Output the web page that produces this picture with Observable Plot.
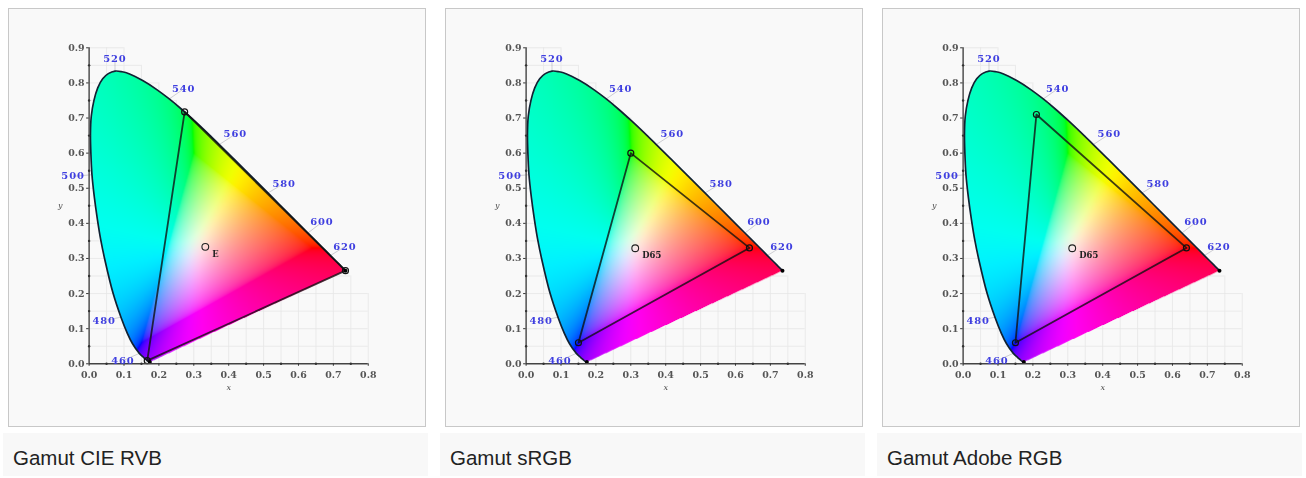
<!DOCTYPE html>
<html><head><meta charset="utf-8">
<script src="https://cdn.jsdelivr.net/npm/d3@7"></script>
<script src="https://cdn.jsdelivr.net/npm/@observablehq/plot@0.6"></script>
<style>
html,body{margin:0;padding:0;background:#fff;width:1306px;height:478px;overflow:hidden}
.panel{position:absolute;top:8px;width:418px;height:419px;box-sizing:border-box;background:#f9f9f9;border:1px solid #c8c8c8}
.panel svg{position:absolute;left:-1px;top:-1px;background:transparent;filter:blur(.5px)}
.cap{position:absolute;top:433px;height:43px;width:425px;background:#f8f8f8;font:20.5px "Liberation Sans",Arial,sans-serif;color:#222;line-height:49px;padding-left:10px;box-sizing:border-box}
.wl text{letter-spacing:.9px}
svg g[aria-label^="axis"] text{letter-spacing:.4px}
</style></head><body>
<script>
const captions = ["Gamut CIE RVB", "Gamut sRGB", "Gamut Adobe RGB"];
const panelLeft = [8, 445, 882];
const captionLeft = [3, 440, 877];
const whiteNames = ["E", "D65", "D65"];
const whitePoints = [[0.333, 0.333], [0.3127, 0.329], [0.3127, 0.329]];
const triangles = [
  [[0.7347, 0.2653], [0.2738, 0.7174], [0.1666, 0.0089]],
  [[0.64, 0.33], [0.30, 0.60], [0.15, 0.06]],
  [[0.64, 0.33], [0.21, 0.71], [0.15, 0.06]]
];
const wavelengths = [380,430,440,450,460,470,475,480,485,490,492.5,495,497.5,500,502.5,505,507.5,510,512.5,515,517.5,520,522.5,525,530,535,540,545,550,555,560,565,570,575,580,585,590,595,600,605,610,620,630,640,650,700];
const locusX = [.1741,.1689,.1644,.1566,.144,.1241,.1096,.0913,.0687,.0454,.0335,.0235,.0148,.0082,.0052,.0039,.0062,.0139,.0247,.0389,.055,.0743,.0943,.1142,.1547,.1929,.2296,.2658,.3016,.3373,.3731,.4087,.4441,.4788,.5125,.5448,.5752,.6029,.627,.6482,.6658,.6915,.7079,.719,.726,.7347];
const locusY = [.005,.0069,.0109,.0177,.0297,.0578,.0868,.1327,.2007,.295,.352,.4127,.476,.5384,.5965,.6548,.705,.7502,.786,.812,.8265,.8338,.8318,.8262,.8059,.7816,.7543,.7243,.6923,.6589,.6245,.5896,.5547,.5202,.4866,.4544,.4242,.3965,.3725,.3514,.334,.3083,.292,.2809,.274,.2653];
const labelNames = ["460","480","500","520","540","560","580","600","620"];
const labelX = [.097,.043,-.046,.074,.271,.419,.559,.667,.733];
const labelY = [.009,.123,.534,.868,.783,.654,.514,.403,.334];
const axisTicksX = [0,.1,.2,.3,.4,.5,.6,.7,.8];
const axisTicksY = [0,.1,.2,.3,.4,.5,.6,.7,.8,.9];
const minorTicksX = [.05,.15,.25,.35,.45,.55,.65,.75];
const minorTicksY = [.05,.15,.25,.35,.45,.55,.65,.75,.85];
const gridX = d3.range(1,17).map(i=>i*.05);
const gridY = d3.range(1,19).map(i=>i*.05);

const locus = locusX.map((x,i)=>({x, y:locusY[i], w:wavelengths[i]}));
const polygon = locus.map(d=>[d.x,d.y]);
const gamma = v => v<=.0031308 ? 12.92*v : 1.055*Math.pow(v,1/2.4)-.055;
function chroma(x,y){
  if(y<=0) return "#000";
  const X=x/y, Z=Math.max(0,1-x-y)/y;
  let r=3.2406*X-1.5372-.4986*Z, g=-.9689*X+1.8758+.0415*Z, b=.0557*X-.204+1.057*Z;
  const m=Math.min(r,g,b,0); r-=m; g-=m; b-=m;
  r*=1.15;
  const M=Math.pow(r*r*r*r+g*g*g*g+b*b*b*b,.25)||1;
  const c=v=>Math.round(255*Math.min(1,gamma(Math.min(1,1.12*v/M))));
  return `rgb(${c(r)},${c(g)},${c(b)})`;
}
const inside=(x,y)=>d3.polygonContains(polygon,[x,y])?1:0;
const serif='"DejaVu Serif",serif';
captions.forEach((cap,k)=>{
  const tri=triangles[k];
  const triPts=[...tri,tri[0]].map(([x,y])=>({x,y}));
  const wp=whitePoints[k];
  const labels=labelNames.map((n,i)=>({n,x:labelX[i],y:labelY[i]}));
  const leaders=labels.map(d=>{const q=locus.find(l=>l.w==+d.n);return {x1:q.x,y1:q.y,x2:d.x,y2:d.y}});
  const plot=Plot.plot({
    width:418,height:419,marginLeft:81,marginRight:56.5,marginTop:39.5,marginBottom:62,
    style:{background:"transparent",overflow:"visible"},
    x:{domain:[0,.8],label:null,axis:null},
    y:{domain:[0,.9],label:null,axis:null},
    color:{type:"identity"},
    marks:[
      Plot.ruleX(gridX,{x:d=>d,y1:0,y2:d=>Math.min(.9,1-d),stroke:"#e6e6e6",strokeWidth:.8}),
      Plot.ruleY(gridY,{y:d=>d,x1:0,x2:d=>Math.min(.8,1-d),stroke:"#e6e6e6",strokeWidth:.8}),
      Plot.raster({fill:chroma,fillOpacity:inside,x1:0,x2:.8,y1:0,y2:.9,pixelSize:.5}),
      Plot.link(leaders,{x1:"x1",y1:"y1",x2:"x2",y2:"y2",stroke:"#667",strokeWidth:.5,strokeOpacity:.6}),
      Plot.line(locus,{x:"x",y:"y",stroke:"#123",strokeWidth:1.7,curve:"catmull-rom"}),
      Plot.line(triPts,{x:"x",y:"y",stroke:"#111",strokeWidth:1.8,strokeOpacity:.8}),
      Plot.dot(tri,{x:d=>d[0],y:d=>d[1],r:3,stroke:"#111",strokeWidth:1.2,fill:"none"}),
      Plot.dot([[.7347,.2653],[.1741,.005]],{x:d=>d[0],y:d=>d[1],r:2,fill:"#000"}),
      Plot.dot([wp],{x:d=>d[0],y:d=>d[1],r:3.4,stroke:"#222",strokeWidth:1.1,fill:"none"}),
      Plot.text([wp],{x:d=>d[0],y:d=>d[1],dx:7,dy:7,text:()=>whiteNames[k],textAnchor:"start",fontFamily:serif,fontSize:8.5,fontWeight:"bold",fill:"#222"}),
      Plot.ruleY([0],{x1:0,x2:.8,stroke:"#444",strokeWidth:1.4}),
      Plot.ruleX([0],{y1:0,y2:.9,stroke:"#444",strokeWidth:1.4}),
      Plot.dot(minorTicksX,{x:d=>d,y:()=>0,r:1.2,fill:"#333"}),
      Plot.dot(minorTicksY,{x:()=>0,y:d=>d,r:1.2,fill:"#333"}),
      Plot.axisX({ticks:axisTicksX,tickSize:2.5,tickPadding:5,tickFormat:d3.format(".1f"),fontFamily:serif,fontSize:9.5,fontWeight:"bold",fill:"#555",stroke:"#333",label:null}),
      Plot.axisY({ticks:axisTicksY,tickSize:2.5,tickPadding:2,tickFormat:d3.format(".1f"),fontFamily:serif,fontSize:9.5,fontWeight:"bold",fill:"#555",stroke:"#333",label:null}),
      Plot.text(["x"],{x:()=>.4,y:()=>0,dy:24,text:d=>d,fontFamily:serif,fontStyle:"italic",fontSize:8,fill:"#444"}),
      Plot.text(["y"],{x:()=>0,y:()=>.45,dx:-29,text:d=>d,fontFamily:serif,fontStyle:"italic",fontSize:8,fill:"#444"}),
      Plot.text(labels,{x:"x",y:"y",text:"n",className:"wl",fontFamily:serif,fontSize:10,fontWeight:"bold",fill:"#3f3fe0"})
    ]
  });
  const p=document.createElement("div");p.className="panel";p.style.left=panelLeft[k]+"px";p.appendChild(plot);document.body.appendChild(p);
  const c=document.createElement("div");c.className="cap";c.style.left=captionLeft[k]+"px";c.textContent=cap;document.body.appendChild(c);
});
</script>
</body></html>
